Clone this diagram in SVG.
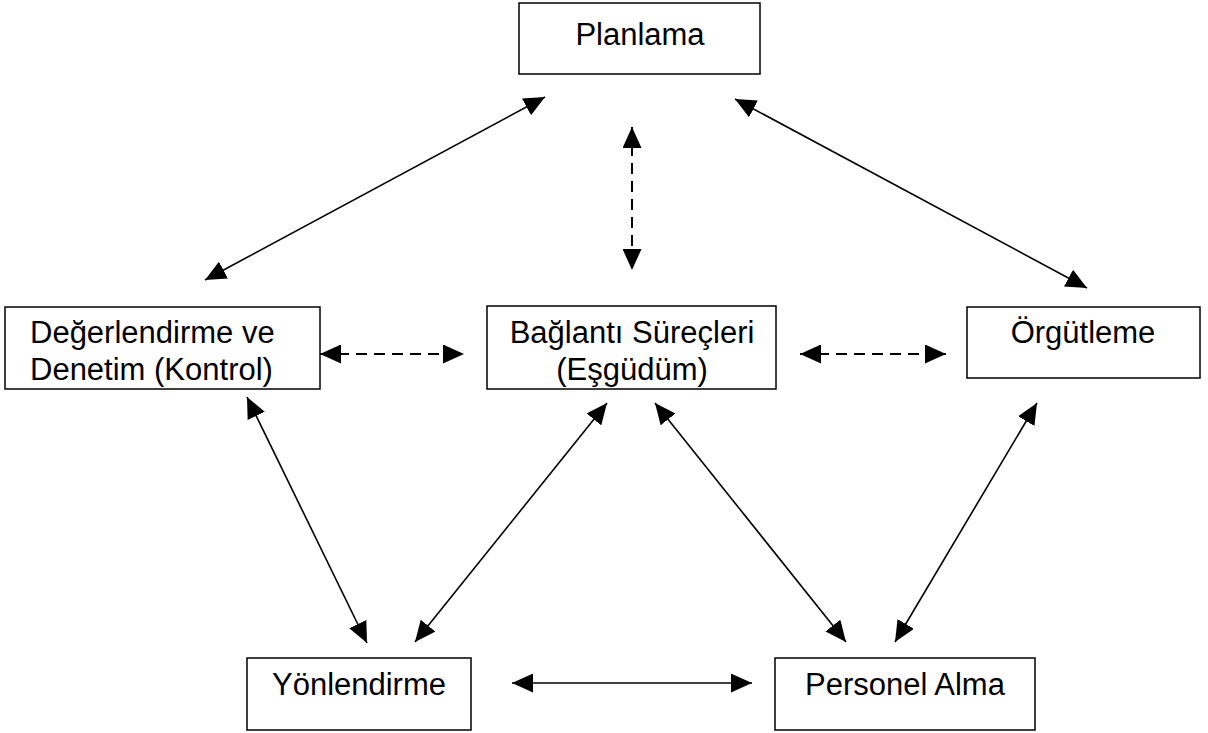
<svg xmlns="http://www.w3.org/2000/svg" width="1208" height="733" viewBox="0 0 1208 733">
<style>
.box{fill:#fff;stroke:#000;stroke-width:1.5}
.lbl{font-family:"Liberation Sans",Arial,sans-serif;font-size:31px;fill:#000}
.c{text-anchor:middle}
.solid{stroke:#000;stroke-width:1.6;fill:none;marker-start:url(#ah);marker-end:url(#ah)}
.dash{stroke:#000;stroke-width:2;fill:none;stroke-dasharray:11 7;marker-start:url(#ah);marker-end:url(#ah)}
</style>
<defs>
<marker id="ah" viewBox="0 0 21 19" refX="21" refY="9.5" markerWidth="21" markerHeight="19" markerUnits="userSpaceOnUse" orient="auto-start-reverse">
<path d="M0,0 L21,9.5 L0,19 Z" fill="#000"/>
</marker>
</defs>
<g id="planlama">
<rect class="box" x="519" y="3" width="241" height="71"/>
<text class="lbl c" x="640" y="45">Planlama</text>
</g>
<g id="degerlendirme">
<rect class="box" x="5" y="307" width="315" height="82"/>
<text class="lbl" x="30" y="343">Değerlendirme ve</text>
<text class="lbl" x="30" y="380">Denetim (Kontrol)</text>
</g>
<g id="baglanti">
<rect class="box" x="487" y="306" width="289" height="83"/>
<text class="lbl c" x="632" y="343">Bağlantı Süreçleri</text>
<text class="lbl c" x="632" y="380">(Eşgüdüm)</text>
</g>
<g id="orgutleme">
<rect class="box" x="967" y="307" width="233" height="71"/>
<text class="lbl c" x="1083" y="343">Örgütleme</text>
</g>
<g id="yonlendirme">
<rect class="box" x="247" y="658" width="224" height="72"/>
<text class="lbl c" x="359" y="695">Yönlendirme</text>
</g>
<g id="personel">
<rect class="box" x="775" y="658" width="260" height="72"/>
<text class="lbl c" x="905" y="695">Personel Alma</text>
</g>
<g id="connectors">
<line class="solid" x1="545" y1="97" x2="205" y2="280"/>
<line class="dash" x1="632" y1="127" x2="632" y2="270"/>
<line class="solid" x1="735" y1="99" x2="1087" y2="288"/>
<line class="dash" x1="320" y1="354" x2="464" y2="354"/>
<line class="dash" x1="800" y1="354" x2="946" y2="354"/>
<line class="solid" x1="247" y1="397" x2="367" y2="643"/>
<line class="solid" x1="607" y1="403" x2="415" y2="642"/>
<line class="solid" x1="655" y1="403" x2="846" y2="642"/>
<line class="solid" x1="1037" y1="403" x2="895" y2="642"/>
<line class="solid" x1="512" y1="683" x2="752" y2="683"/>
</g>
</svg>
